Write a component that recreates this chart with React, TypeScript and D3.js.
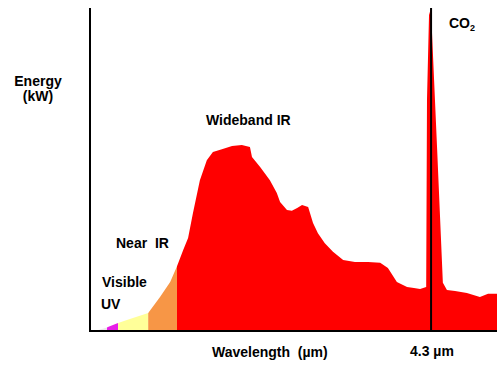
import React from 'react';
import * as d3 from 'd3';

// spectrum trace, position along the wavelength axis (0-100) and relative energy (0-100)
const position = [
  1.2, 4.4, 6.9, 9.8, 14.3, 17.2, 19.7, 21.4, 22.9, 24.1, 25.3, 27.0, 28.7, 30.2,
  32.4, 34.9, 37.3, 39.3, 39.8, 41.8, 44.2, 45.9, 46.7, 48.4, 49.6, 50.9, 52.1, 53.6,
  54.8, 56.0, 57.7, 59.7, 62.2, 65.1, 68.3, 71.3, 73.2, 75.4, 77.9, 79.6, 81.1, 82.6,
  82.8, 83.3, 83.8, 84.0, 85.3, 86.7, 87.7, 89.7, 92.6, 95.8, 97.8, 99.0, 100
];
const energy = [
  0, 1.2, 2.5, 3.7, 5.6, 10.5, 15.2, 20.1, 25.1, 28.8, 36.5, 46.7, 52.9, 55.4,
  56.3, 57.3, 57.6, 57.0, 53.9, 50.8, 46.7, 42.7, 39.9, 37.5, 37.2, 38.1, 39.0, 38.4,
  33.4, 30.3, 27.2, 24.5, 22.0, 21.4, 21.4, 21.1, 19.5, 15.2, 13.6, 13.3, 13.0, 13.6,
  71.5, 97.8, 100, 93.2, 56.0, 14.9, 12.7, 12.4, 11.8, 10.5, 11.5, 11.5, 11.5
];

// spectral bands and their boundaries on the same axis
const bandNames = ['edge', 'UV', 'Visible', 'Near IR', 'Wideband IR'];
const bandStart = [0, 4.2, 6.9, 14.3, 21.4];
const bandEnd = [4.2, 6.9, 14.3, 21.4, 100];
const bandColors = ['#ece4ec', '#e81ee8', '#ffff99', '#f79646', '#ff0000'];

const co2Position = 83.8;

export default function App() {
  const width = 500;
  const height = 366;
  const x = d3.scaleLinear().domain([0, 100]).range([90, 497]);
  const y = d3.scaleLinear().domain([0, 100]).range([331, 8]);

  const pts = position.map((p, i) => [p, energy[i]] as [number, number]);
  const area = d3.area<[number, number]>()
    .x(d => x(d[0]))
    .y0(y(0))
    .y1(d => y(d[1]));
  const path = area(pts) || '';

  const font = { fontFamily: '"Liberation Sans", Arial, sans-serif', fontWeight: 'bold', fontSize: 14 } as const;

  return (
    <svg width={width} height={height} style={{ position: 'absolute', left: 0, top: 0, background: '#fff' }}>
      <defs>
        {bandNames.map((b, i) => (
          <clipPath id={`band-${i}`} key={b}>
            <rect x={x(bandStart[i])} y={0} width={x(bandEnd[i]) - x(bandStart[i])} height={height} />
          </clipPath>
        ))}
      </defs>
      {bandNames.map((b, i) => (
        <path key={b} d={path} fill={bandColors[i]} clipPath={`url(#band-${i})`} />
      ))}
      {/* axes */}
      <line x1={x(0)} y1={y(100)} x2={x(0)} y2={y(0) + 1} stroke="#000" strokeWidth={2} />
      <line x1={x(0) - 1} y1={y(0)} x2={x(100)} y2={y(0)} stroke="#000" strokeWidth={2} />
      <line x1={x(co2Position)} y1={y(100)} x2={x(co2Position)} y2={y(0)} stroke="#000" strokeWidth={2} />

      <g style={font} fill="#000">
        <text x={38} y={86} textAnchor="middle">Energy</text>
        <text x={38} y={101} textAnchor="middle">(kW)</text>
        <text x={206} y={125}>Wideband IR</text>
        <text x={116} y={248} xmlSpace="preserve">Near  IR</text>
        <text x={102} y={287}>Visible</text>
        <text x={101} y={309}>UV</text>
        <text x={449} y={28}>CO<tspan fontSize={9} dy={3}>2</tspan></text>
        <text x={212} y={357} xmlSpace="preserve">Wavelength  (µm)</text>
        <text x={410} y={356}>4.3 µm</text>
      </g>
    </svg>
  );
}
